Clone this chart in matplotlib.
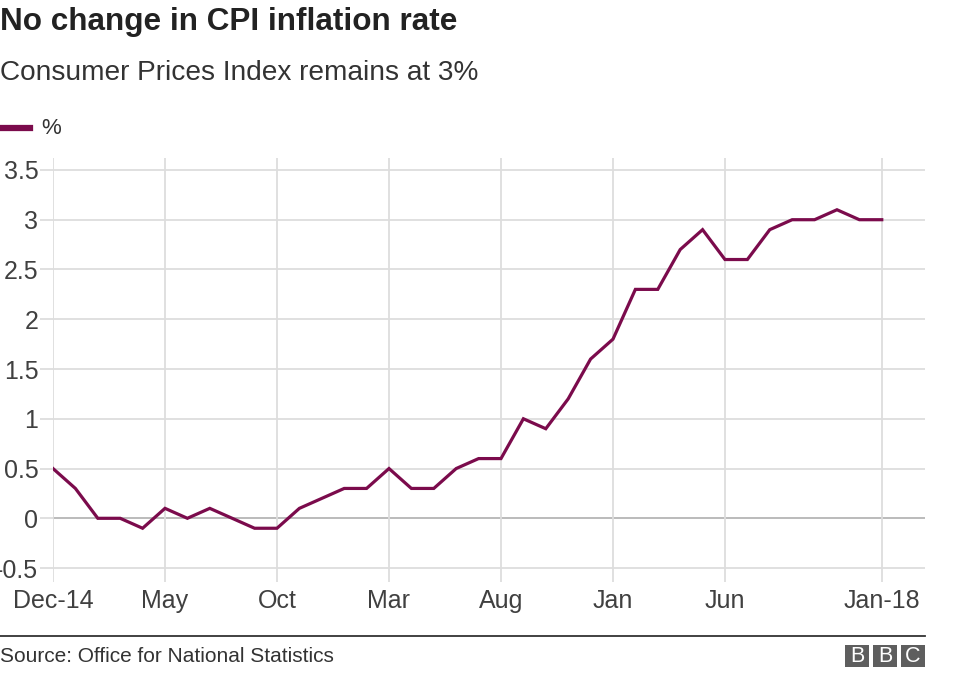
import numpy as np
import pandas as pd
import matplotlib
matplotlib.use('Agg')
import matplotlib.pyplot as plt
from matplotlib.patches import Rectangle
from matplotlib.lines import Line2D

plt.rcParams['font.family'] = ['Liberation Sans', 'DejaVu Sans']

# monthly CPI inflation, Dec 2014 - Jan 2018
months = pd.date_range('2014-12-01', '2018-01-01', freq='MS')
cpi = [0.5, 0.3, 0.0, 0.0, -0.1, 0.1, 0.0, 0.1, 0.0, -0.1, -0.1, 0.1,
       0.2, 0.3, 0.3, 0.5, 0.3, 0.3, 0.5, 0.6, 0.6, 1.0, 0.9, 1.2,
       1.6, 1.8, 2.3, 2.3, 2.7, 2.9, 2.6, 2.6, 2.9, 3.0, 3.0, 3.1,
       3.0, 3.0]
tick_months = ['2014-12', '2015-05', '2015-10', '2016-03', '2016-08',
               '2017-01', '2017-06', '2018-01']
tick_labels = ['Dec-14', 'May', 'Oct', 'Mar', 'Aug', 'Jan', 'Jun', 'Jan-18']
y_ticks = [-0.5, 0, 0.5, 1, 1.5, 2, 2.5, 3, 3.5]
y_labels = ['-0.5', '0', '0.5', '1', '1.5', '2', '2.5', '3', '3.5']

line_col = '#7b0b4c'
grid_col = '#dddddd'
text_col = '#404040'

W, H = 976, 674
fig = plt.figure(figsize=(W / 100, H / 100), dpi=100)
ax = fig.add_axes([53 / W, 1 - 582 / H, (925 - 53) / W, (582 - 158) / H])

x = np.arange(len(months))
month_keys = [m.strftime('%Y-%m') for m in months]
tick_pos = [month_keys.index(m) for m in tick_months]

ax.plot(x, cpi, color=line_col, linewidth=2.3, solid_joinstyle='miter', zorder=3)

ax.set_xlim(0, 38.93)
ax.set_ylim(-0.64, 3.62)
ax.set_yticks(y_ticks)
ax.set_yticklabels(y_labels)
ax.set_xticks(tick_pos)
ax.set_xticklabels(tick_labels)

for yv in y_ticks:
    ax.axhline(yv, color='#b5b5b5' if yv == 0 else grid_col, linewidth=1.3, zorder=1)
for xv in tick_pos:
    ax.axvline(xv, color=grid_col, linewidth=1.3, zorder=1)

for s in ax.spines.values():
    s.set_visible(False)
ax.tick_params(axis='y', length=9.5, width=1.3, color=grid_col, pad=1,
               labelsize=18, labelcolor=text_col)
ax.tick_params(axis='x', length=0, pad=5, labelsize=18, labelcolor=text_col)

# title block
fig.text(0, 1 - 22 / H, 'No change in CPI inflation rate', fontsize=22.7,
         fontweight='bold', color='#222222', va='center', ha='left')
fig.text(0, 1 - 73 / H, 'Consumer Prices Index remains at 3%', fontsize=20.2,
         color='#333333', va='center', ha='left')

# legend
fig.add_artist(Line2D([0, 30 / W], [1 - 128 / H] * 2, color=line_col, linewidth=4.5))
fig.text(41 / W, 1 - 129 / H, '%', fontsize=16, color='#333333', va='center', ha='left')

# footer
fig.add_artist(Line2D([0, 925 / W], [1 - 636 / H] * 2, color='#333333', linewidth=1.3))
fig.text(0, 1 - 656 / H, 'Source: Office for National Statistics', fontsize=15,
         color='#333333', va='center', ha='left')
for i, letter in enumerate('BBC'):
    x0 = 845 + i * 28
    fig.add_artist(Rectangle((x0 / W, 1 - 667 / H), 24 / W, 22 / H,
                             transform=fig.transFigure, color='#5e5e5e', lw=0))
    fig.text((x0 + 12) / W, 1 - 656.5 / H, letter, fontsize=15.5,
             color='white', va='center', ha='center')

fig.savefig('out.png', dpi=100, facecolor='white')
